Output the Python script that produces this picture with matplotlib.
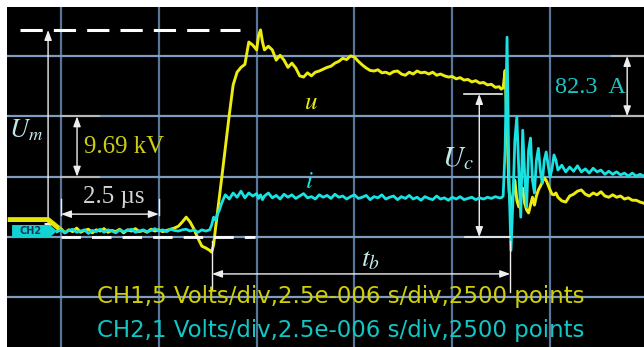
import numpy as np
import matplotlib
matplotlib.use("Agg")
import matplotlib.pyplot as plt
from matplotlib.patches import Polygon

plt.rcParams["lines.scale_dashes"] = False
plt.rcParams["mathtext.fontset"] = "stix"

# sample times in microseconds (shared by both channels), 2.5 us / div
t_us = ([round(-0.1 + 0.1 * k, 2) for k in range(32)]          # -0.1 .. 3.0
        + [3.1, 3.2, 3.3, 3.4, 3.5, 3.6, 3.7, 3.8]
        + [3.85, 3.9, 3.95, 4.0, 4.05, 4.1, 4.15, 4.2]
        + [4.3, 4.4, 4.5, 4.6, 4.7, 4.8, 4.9, 5.0]
        + [5.05, 5.1, 5.15, 5.2]
        + [round(5.3 + 0.1 * k, 2) for k in range(60)]          # 5.3 .. 11.2
        + [round(11.25 + 0.05 * k, 2) for k in range(30)]       # 11.25 .. 12.7
        + [round(12.8 + 0.1 * k, 2) for k in range(22)])        # 12.8 .. 14.9

# CH1 voltage u, in screen divisions above ground
u_div = ([0.10, 0.14, 0.07, 0.12, 0.09, 0.15, 0.08, 0.11, 0.13, 0.07,
          0.12, 0.10, 0.14, 0.08, 0.11, 0.09, 0.13, 0.07, 0.12, 0.10,
          0.14, 0.09, 0.11, 0.08, 0.13, 0.10, 0.12, 0.09, 0.11, 0.13,
          0.15, 0.18]
         + [0.25, 0.33, 0.25, 0.13, -0.02, -0.15, -0.18, -0.22]
         + [-0.25, -0.13, 0.15, 0.41, 0.68, 0.94, 1.21, 1.47]
         + [2.02, 2.52, 2.73, 2.81, 2.86, 3.23, 3.18, 3.10]
         + [3.34, 3.43, 3.23, 3.10]
         + [3.16, 3.10, 2.93, 3.01, 2.93, 2.81, 2.88, 2.80, 2.67, 2.65,
            2.72, 2.67, 2.73, 2.75, 2.78, 2.81, 2.83, 2.88, 2.91, 2.96,
            2.94, 3.00, 2.98, 2.91, 2.85, 2.80, 2.76, 2.75, 2.77, 2.72,
            2.73, 2.70, 2.74, 2.75, 2.70, 2.68, 2.73, 2.70, 2.75, 2.72,
            2.73, 2.70, 2.73, 2.68, 2.70, 2.67, 2.65, 2.66, 2.62, 2.64,
            2.60, 2.61, 2.57, 2.59, 2.55, 2.56, 2.52, 2.53, 2.48, 2.49]
         + [2.45, 2.47, 2.76, 1.77, 0.78, 0.45, 0.70, 0.94, 0.61, 0.50,
            0.68, 0.81, 0.56, 0.45, 0.40, 0.53, 0.66, 0.53, 0.68, 0.78,
            0.84, 0.91, 0.98, 0.94, 0.86, 0.78, 0.71, 0.70, 0.73, 0.66]
         + [0.60, 0.58, 0.68, 0.71, 0.76, 0.78, 0.71, 0.68, 0.73, 0.70,
            0.75, 0.68, 0.66, 0.70, 0.66, 0.68, 0.63, 0.65, 0.61, 0.61,
            0.58, 0.56])

# CH2 current i, in screen divisions above ground
i_div = ([0.09, 0.12, 0.07, 0.11, 0.13, 0.08, 0.10, 0.12, 0.06, 0.11,
          0.09, 0.13, 0.08, 0.12, 0.10, 0.07, 0.12, 0.09, 0.11, 0.13,
          0.08, 0.10, 0.12, 0.09, 0.11, 0.14, 0.10, 0.12, 0.09, 0.13,
          0.11, 0.10]
         + [0.12, 0.13, 0.10, 0.12, 0.08, 0.12, 0.10, 0.12]
         + [0.20, 0.33, 0.28, 0.38, 0.45, 0.55, 0.63, 0.70]
         + [0.63, 0.73, 0.66, 0.76, 0.65, 0.73, 0.68, 0.72]
         + [0.64, 0.70, 0.62, 0.68]
         + [0.73, 0.65, 0.69, 0.63, 0.71, 0.66, 0.70, 0.64, 0.68, 0.72,
            0.65, 0.67, 0.63, 0.70, 0.66, 0.69, 0.64, 0.71, 0.66, 0.68,
            0.63, 0.67, 0.70, 0.64, 0.66, 0.69, 0.62, 0.67, 0.65, 0.70,
            0.63, 0.66, 0.68, 0.62, 0.67, 0.64, 0.69, 0.63, 0.66, 0.61,
            0.67, 0.64, 0.62, 0.68, 0.63, 0.65, 0.61, 0.66, 0.63, 0.67,
            0.62, 0.64, 0.66, 0.62, 0.65, 0.63, 0.66, 0.64, 0.67, 0.65]
         + [0.65, 0.68, 1.44, 3.31, 0.94, -0.22, 0.61, 1.61, 1.99, 1.11,
            0.33, 1.77, 1.03, 0.50, 1.44, 1.64, 0.94, 0.73, 1.27, 1.47,
            1.11, 0.89, 1.27, 1.41, 1.19, 0.99, 1.14, 1.36, 1.27, 1.11]
         + [1.19, 1.08, 1.16, 1.09, 1.18, 1.08, 1.13, 1.06, 1.14, 1.08,
            1.11, 1.04, 1.09, 1.04, 1.08, 1.03, 1.06, 1.01, 1.06, 1.01,
            1.04, 1.01])

assert len(t_us) == len(u_div) == len(i_div)

# readings taken off the screen
T_BREAK_START = 3.86     # start of the voltage rise (us)
T_COLLAPSE = 11.48       # breakdown instant (us)
U_C_DIV = 2.37           # level just before breakdown
TIME_DIV = 2.5
GRID_X = [0, 2.5, 5, 7.5, 10, 12.5]
GRID_Y = [-1, 0, 1, 2, 3]

YELLOW = "#ecec10"
CYAN = "#18e2e2"
WHITE = "#eeeeee"
LABEL_CYAN = "#bfe9ea"

fig = plt.figure(figsize=(6.44, 3.47), dpi=100)
fig.patch.set_facecolor("white")
ax = fig.add_axes([7 / 644, 0, 637 / 644, 340 / 347])
ax.set_facecolor("black")
ax.set_xlim(-1.38, 14.90)
ax.set_ylim(-1.82, 3.81)
ax.set_xticks([])
ax.set_yticks([])
for sp in ax.spines.values():
    sp.set_visible(False)

for gx in GRID_X:
    ax.axvline(gx, color="#58769a", lw=1.6, zorder=1)
for gy in GRID_Y:
    ax.axhline(gy, color="#7d9cbf", lw=1.6, zorder=1)

t = np.array(t_us)
u = np.array(u_div)
cur = np.array(i_div)
ax.plot(t, u, color=YELLOW, lw=2.1, zorder=3, solid_joinstyle="round")
ax.plot(t, cur, color=CYAN, lw=2.0, zorder=4, solid_joinstyle="round")

u_max = u.max()
arrow = dict(arrowstyle="<|-|>,head_length=0.6,head_width=0.22",
             color=WHITE, lw=1.0, shrinkA=0, shrinkB=0, mutation_scale=10)

# U_m
ax.plot([-1.05, 4.58], [u_max, u_max], color="white", lw=2.2,
        linestyle=(0, (16, 8)), zorder=5)
ax.plot([0, 4.96], [0, 0], color="white", lw=2.0,
        linestyle=(0, (14, 8)), zorder=5)
ax.annotate("", xy=(-0.33, u_max), xytext=(-0.33, 0.05),
            arrowprops=arrow, zorder=6)
ax.text(-1.33, 1.77, r"$U_m$", color=LABEL_CYAN, fontsize=19,
        ha="left", va="center")

# 1 div of CH1
ax.plot([0, 0.97], [2, 2], color="#b8b8b8", lw=1.4, zorder=5)
ax.plot([0, 0.97], [1, 1], color="#b8b8b8", lw=1.4, zorder=5)
ax.annotate("", xy=(0.41, 2), xytext=(0.41, 1), arrowprops=arrow)
ax.text(0.59, 1.49, "9.69 kV", color="#cccc10", fontsize=18,
        family="Liberation Serif", ha="left", va="center")

# time scale
ax.plot([0, 0], [0.36, 0.63], color=WHITE, lw=1.0, zorder=5)
ax.plot([TIME_DIV, TIME_DIV], [0.36, 0.63], color=WHITE, lw=1.0, zorder=5)
ax.annotate("", xy=(0, 0.38), xytext=(TIME_DIV, 0.38), arrowprops=arrow)
ax.text(0.56, 0.66, "2.5 \u00b5s", color="#d4d4d4", fontsize=18,
        family="Liberation Serif", ha="left", va="center")

# trace labels
ax.text(6.39, 2.24, r"$u$", color=YELLOW, fontsize=18, ha="center", va="center")
ax.text(6.34, 0.93, r"$i$", color=CYAN, fontsize=18, ha="center", va="center")

# t_b
ax.plot([T_BREAK_START, T_BREAK_START], [-0.07, -0.88], color=WHITE, lw=1.0, zorder=5)
ax.plot([T_COLLAPSE, T_COLLAPSE], [-0.07, -0.91], color=WHITE, lw=1.0, zorder=5)
ax.annotate("", xy=(T_BREAK_START, -0.61), xytext=(T_COLLAPSE, -0.61), arrowprops=arrow)
ax.text(7.90, -0.36, r"$t_b$", color=LABEL_CYAN, fontsize=20, ha="center", va="center")

# U_c
ax.plot([10.30, 11.27], [U_C_DIV, U_C_DIV], color=WHITE, lw=1.2, zorder=5)
ax.plot([10.33, T_COLLAPSE], [0, 0], color=WHITE, lw=1.2, zorder=5)
ax.annotate("", xy=(10.69, U_C_DIV), xytext=(10.69, 0), arrowprops=arrow)
ax.text(10.15, 1.31, r"$U_c$", color=LABEL_CYAN, fontsize=21,
        ha="center", va="center")

# 1 div of CH2
ax.plot([14.09, 14.9], [3, 3], color="#b8b8b8", lw=1.4, zorder=5)
ax.plot([14.09, 14.9], [2, 2], color="#b8b8b8", lw=1.4, zorder=5)
ax.annotate("", xy=(14.47, 3), xytext=(14.47, 2), arrowprops=arrow)
ax.text(12.63, 2.48, "82.3  A", color="#1ec4c4", fontsize=17.5,
        family="Liberation Serif", ha="left", va="center")

# channel ground markers
ax.plot([-1.30, -0.33, -0.10], [0.29, 0.29, 0.17], color="#e6e600", lw=3.5,
        solid_joinstyle="miter", zorder=6)
ax.add_patch(Polygon([(-1.25, 0.0), (-0.28, 0.0), (-0.10, 0.10),
                      (-0.28, 0.20), (-1.25, 0.20)],
                     closed=True, facecolor="#10d4d4", edgecolor="none", zorder=6))
ax.text(-0.78, 0.10, "CH2", color="#1a3850", fontsize=7, fontweight="bold",
        ha="center", va="center", zorder=7)

# scope settings
ax.text(7.16, -0.99, "CH1,5 Volts/div,2.5e-006 s/div,2500 points",
        color="#cfcf0a", fontsize=16.5, family="DejaVu Sans",
        ha="center", va="center", zorder=6)
ax.text(7.16, -1.54, "CH2,1 Volts/div,2.5e-006 s/div,2500 points",
        color="#12c6c6", fontsize=16.5, family="DejaVu Sans",
        ha="center", va="center", zorder=6)

fig.savefig("out.png", dpi=100, facecolor=fig.get_facecolor())
